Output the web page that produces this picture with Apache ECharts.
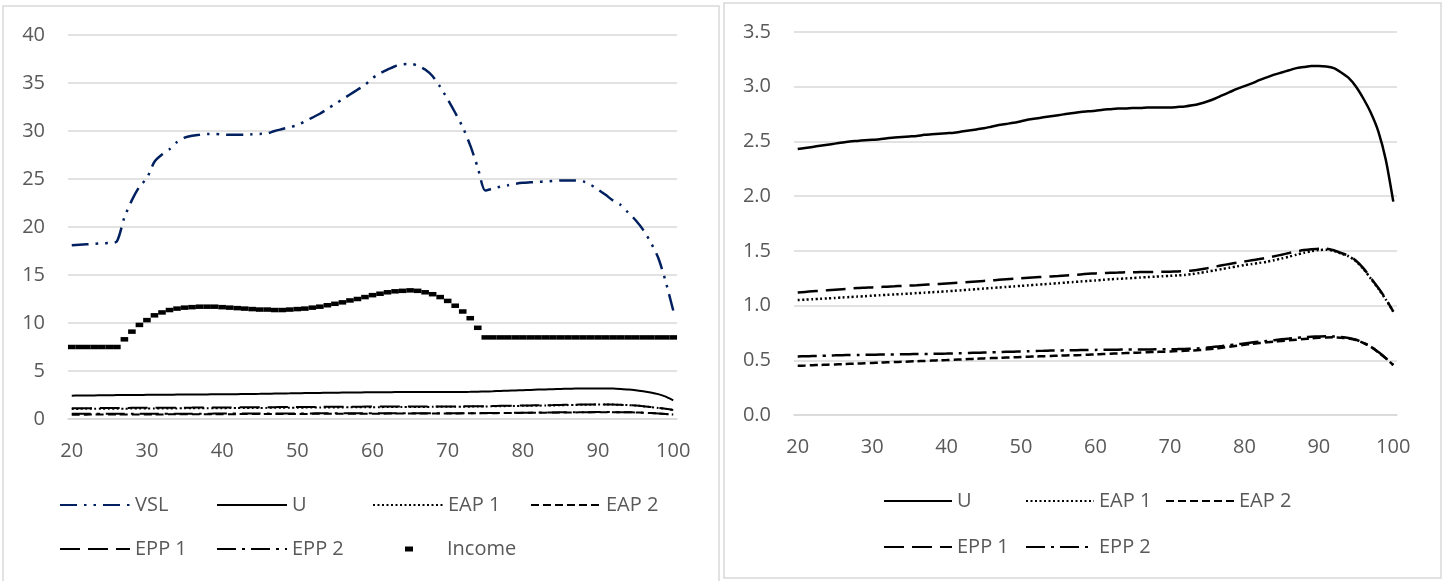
<!DOCTYPE html>
<html><head><meta charset="utf-8">
<script src="https://cdn.jsdelivr.net/npm/echarts@6/dist/echarts.min.js"></script>
<style>html,body{margin:0;padding:0;background:#fff}#c{width:1445px;height:581px}</style>
</head><body><div id="c"></div>
<script>
var ages = [];
for (var a = 20; a <= 100; a++) ages.push(String(a));

var vsl = [18.1,18.15,18.2,18.25,18.3,18.35,18.5,21.0,22.8,24.2,25.1,26.8,27.55,28.1,28.85,29.3,29.5,29.6,29.7,29.7,
29.65,29.6,29.6,29.6,29.65,29.7,29.75,30.0,30.2,30.4,30.6,31.0,31.4,31.8,32.3,32.8,33.3,33.8,34.3,34.8,
35.5,36.0,36.4,36.75,36.95,37.0,36.8,36.4,35.7,34.6,33.3,31.9,30.4,28.5,26.2,23.8,24.0,24.2,24.35,24.5,
24.6,24.65,24.7,24.75,24.8,24.85,24.85,24.85,24.75,24.4,23.9,23.35,22.75,22.3,21.5,20.7,19.7,18.4,16.8,14.3,11.3];

var income = [7.5,7.5,7.5,7.5,7.5,7.5,7.5,8.3,9.1,9.8,10.3,10.8,11.1,11.35,11.5,11.6,11.65,11.7,11.7,11.7,
11.65,11.6,11.55,11.5,11.45,11.4,11.4,11.35,11.35,11.4,11.45,11.5,11.6,11.7,11.85,12.0,12.15,12.35,12.5,12.7,
12.9,13.05,13.2,13.3,13.35,13.4,13.35,13.2,13.0,12.7,12.3,11.8,11.2,10.5,9.5,8.5,8.5,8.5,8.5,8.5,
8.5,8.5,8.5,8.5,8.5,8.5,8.5,8.5,8.5,8.5,8.5,8.5,8.5,8.5,8.5,8.5,8.5,8.5,8.5,8.5,8.5];

var u = [2.43,2.44,2.45,2.46,2.47,2.48,2.49,2.50,2.505,2.51,2.515,2.52,2.53,2.535,2.54,2.545,2.55,2.56,2.565,2.57,
2.575,2.58,2.59,2.60,2.61,2.62,2.635,2.65,2.66,2.67,2.685,2.70,2.71,2.72,2.73,2.74,2.75,2.76,2.77,2.775,
2.78,2.79,2.795,2.80,2.80,2.805,2.805,2.81,2.81,2.81,2.81,2.815,2.82,2.83,2.845,2.865,2.89,2.92,2.95,2.98,
3.005,3.03,3.06,3.085,3.11,3.13,3.15,3.17,3.18,3.19,3.19,3.185,3.17,3.13,3.08,3.0,2.89,2.76,2.59,2.33,1.95];

var eap1 = [1.05,1.054,1.058,1.062,1.066,1.07,1.074,1.078,1.082,1.086,1.09,1.094,1.098,1.102,1.106,1.11,1.114,1.118,1.122,1.126,
1.13,1.135,1.14,1.145,1.15,1.155,1.16,1.165,1.17,1.175,1.18,1.185,1.19,1.195,1.2,1.205,1.21,1.215,1.22,1.225,
1.23,1.235,1.24,1.244,1.248,1.252,1.256,1.26,1.264,1.268,1.272,1.276,1.28,1.288,1.298,1.31,1.322,1.334,1.346,1.358,
1.37,1.38,1.39,1.40,1.415,1.43,1.447,1.465,1.482,1.497,1.507,1.51,1.50,1.475,1.45,1.405,1.335,1.245,1.155,1.055,0.945];

var eap2 = [0.45,0.452,0.455,0.457,0.46,0.462,0.465,0.468,0.47,0.473,0.476,0.478,0.481,0.484,0.486,0.489,0.492,0.494,0.497,0.5,
0.502,0.505,0.508,0.511,0.514,0.517,0.52,0.522,0.525,0.527,0.53,0.532,0.535,0.537,0.54,0.542,0.544,0.546,0.548,0.551,
0.554,0.557,0.56,0.563,0.566,0.569,0.571,0.574,0.576,0.578,0.581,0.584,0.587,0.59,0.594,0.6,0.607,0.615,0.624,0.633,
0.642,0.65,0.657,0.664,0.67,0.676,0.682,0.688,0.694,0.7,0.705,0.709,0.71,0.707,0.7,0.685,0.658,0.623,0.573,0.518,0.457];

var epp1 = [1.12,1.125,1.13,1.135,1.14,1.145,1.15,1.155,1.16,1.163,1.166,1.17,1.173,1.176,1.18,1.183,1.186,1.19,1.194,1.198,
1.202,1.206,1.21,1.215,1.22,1.225,1.23,1.235,1.24,1.245,1.25,1.254,1.258,1.262,1.266,1.27,1.275,1.28,1.285,1.29,
1.294,1.297,1.3,1.302,1.304,1.305,1.306,1.307,1.308,1.309,1.31,1.312,1.315,1.32,1.33,1.342,1.355,1.368,1.38,1.392,
1.403,1.414,1.425,1.437,1.45,1.465,1.48,1.495,1.507,1.515,1.52,1.52,1.505,1.48,1.455,1.41,1.34,1.25,1.16,1.06,0.945];

var epp2 = [0.535,0.537,0.539,0.541,0.543,0.545,0.547,0.548,0.549,0.55,0.551,0.552,0.553,0.554,0.555,0.556,0.557,0.558,0.559,0.56,
0.561,0.563,0.565,0.567,0.569,0.571,0.573,0.575,0.577,0.579,0.581,0.583,0.585,0.587,0.589,0.59,0.591,0.592,0.593,0.594,
0.595,0.596,0.597,0.597,0.598,0.598,0.599,0.599,0.6,0.6,0.601,0.602,0.604,0.607,0.61,0.616,0.623,0.63,0.638,0.646,
0.654,0.662,0.67,0.677,0.684,0.692,0.699,0.706,0.711,0.715,0.718,0.72,0.718,0.712,0.703,0.688,0.66,0.625,0.575,0.52,0.457];

var FONT = 'Open Sans';
var TXT = '#595959';
var GRID = '#D9D9D9';

var styles = {
  'VSL':   {color:'#002060', dash:[17,7,2.5,7,2.5,7]},
  'U':     {color:'#000', dash:'solid'},
  'EAP 1': {color:'#000', dash:[2,2.5]},
  'EAP 2': {color:'#000', dash:[8,4]},
  'EPP 1': {color:'#000', dash:[20,8]},
  'EPP 2': {color:'#000', dash:[19,6,3,6]}
};

function lineSeries(name, data, gi, w) {
  var s = styles[name];
  return {
    name: name, type: 'line', xAxisIndex: gi, yAxisIndex: gi, data: data,
    symbol: 'none', smooth: 0.25, color: s.color,
    lineStyle: {color: s.color, width: w, type: s.dash, cap: 'butt'}
  };
}

function xAxis(gi) {
  return {
    type: 'category', gridIndex: gi, data: ages, boundaryGap: true,
    axisTick: {show: false},
    axisLine: {show: true, lineStyle: {color: GRID, width: 1.5}},
    axisLabel: {interval: 9, color: TXT, fontFamily: FONT, fontSize: 20, margin: 22},
    splitLine: {show: false}
  };
}
function yAxis(gi, max, interval, dec) {
  return {
    type: 'value', gridIndex: gi, min: 0, max: max, interval: interval,
    axisLine: {show: false}, axisTick: {show: false},
    axisLabel: {color: TXT, fontFamily: FONT, fontSize: 20, margin: 23,
      formatter: function (v) { return dec ? v.toFixed(1) : String(v); }},
    splitLine: {lineStyle: {color: GRID, width: 1.5}}
  };
}

function leg(name, left, cy, w) {
  return {
    data: [name], left: left, top: cy - 12, itemWidth: w, itemHeight: 14,
    padding: 0, selectedMode: false,
    itemStyle: {opacity: 0, borderWidth: 0},
    textStyle: {color: TXT, fontFamily: FONT, fontSize: 20, lineHeight: 24}
  };
}

var legends = [
  leg('VSL', 59, 505, 70), leg('U', 216, 505, 70), leg('EAP 1', 372, 505, 70), leg('EAP 2', 530, 505, 70),
  leg('EPP 1', 59, 549, 70), leg('EPP 2', 216, 549, 70),
  {data: ['Income'], left: 405, top: 549 - 12, itemWidth: 8, itemHeight: 5, padding: 0, selectedMode: false,
   textStyle: {color: TXT, fontFamily: FONT, fontSize: 20, lineHeight: 24, padding: [0, 0, 0, 29]}},
  leg('U', 883, 501, 68), leg('EAP 1', 1025, 501, 68), leg('EAP 2', 1165, 501, 68),
  leg('EPP 1', 883, 547, 68), leg('EPP 2', 1025, 547, 68)
];

var option = {
  backgroundColor: '#fff',
  animation: false,
  textStyle: {fontFamily: FONT},
  graphic: [
    {type: 'rect', shape: {x: 3, y: 6, width: 716, height: 580}, style: {fill: 'none', stroke: GRID, lineWidth: 1.5}, silent: true},
    {type: 'rect', shape: {x: 724, y: 3, width: 717, height: 575}, style: {fill: 'none', stroke: GRID, lineWidth: 1.5}, silent: true}
  ],
  grid: [
    {left: 68, top: 35, width: 609, height: 384},
    {left: 794, top: 32, width: 603, height: 383}
  ],
  xAxis: [xAxis(0), xAxis(1)],
  yAxis: [yAxis(0, 40, 5, false), yAxis(1, 3.5, 0.5, true)],
  legend: legends,
  series: [
    lineSeries('VSL', vsl, 0, 2.5),
    lineSeries('U', u, 0, 2),
    lineSeries('EAP 1', eap1, 0, 2),
    lineSeries('EAP 2', eap2, 0, 2),
    lineSeries('EPP 1', epp1, 0, 2),
    lineSeries('EPP 2', epp2, 0, 2),
    {name: 'Income', type: 'scatter', xAxisIndex: 0, yAxisIndex: 0, data: income,
     symbol: 'rect', symbolSize: [7.6, 4.5], itemStyle: {color: '#000', opacity: 1}, color: '#000'},
    lineSeries('U', u, 1, 2.5),
    lineSeries('EAP 1', eap1, 1, 2.5),
    lineSeries('EAP 2', eap2, 1, 2.5),
    lineSeries('EPP 1', epp1, 1, 2.5),
    lineSeries('EPP 2', epp2, 1, 2.5)
  ]
};
var chart = echarts.init(document.getElementById('c'), null, {renderer: 'canvas'});
chart.setOption(option);
</script></body></html>
